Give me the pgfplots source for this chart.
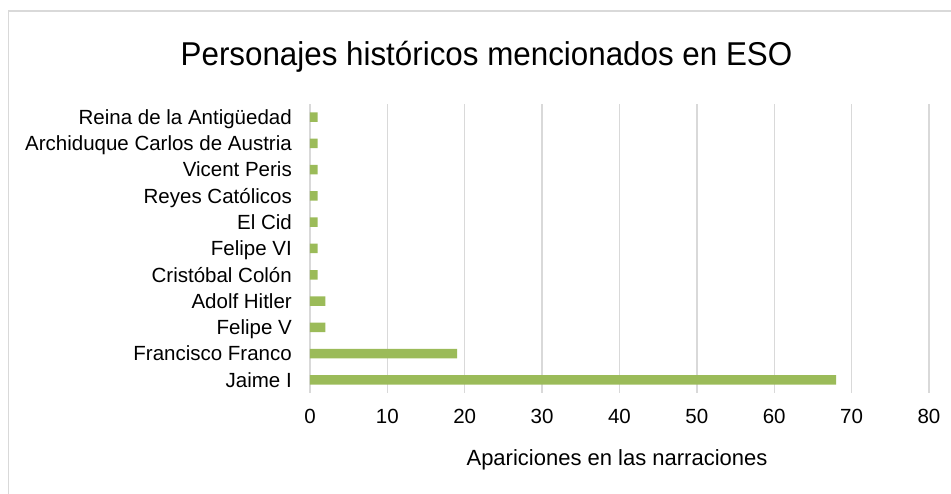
\documentclass[border=0pt]{standalone}
\usepackage{fontspec}
\setmainfont{Liberation Sans}
\newfontfamily\titlefont{Liberation Sans}[FakeStretch=0.95]
\usepackage{pgfplots}
\pgfplotsset{compat=1.18}
\definecolor{bargreen}{HTML}{9BBB59}
\definecolor{gridgray}{HTML}{D9D9D9}
\begin{document}
\begin{tikzpicture}[x=1pt,y=1pt]
\useasboundingbox (0,0) rectangle (951,494);
\begin{scope}
\clip (0,0) rectangle (951,494);
\draw[gridgray, line width=1.5pt] (8.5,-20) -- (8.5,483) -- (970,483);
\end{scope}
\begin{axis}[
 at={(310pt,101pt)}, anchor=south west,
 scale only axis, width=619pt, height=289pt,
 xbar, bar width=9.5pt,
 xmin=0, xmax=80, ymin=-0.5, ymax=10.5,
 xtick={0,10,...,80},
 ytick={0,...,10},
 yticklabels={Jaime I, Francisco Franco, Felipe V, Adolf Hitler, Cristóbal Colón, Felipe VI, El Cid, Reyes Católicos, Vicent Peris, Archiduque Carlos de Austria, Reina de la Antigüedad},
 axis line style={draw=none},
 xmajorgrids, grid style={gridgray, line width=1.3pt},
 major tick length=0,
 tick label style={font=\fontsize{20.5}{24}\selectfont},
 /pgf/number format/assume math mode=true,
 xticklabel style={anchor=base, yshift=-30.5pt, inner sep=0},
 yticklabel style={anchor=base east, yshift=-7.3pt, xshift=-18pt, inner sep=0},
]
\addplot[fill=bargreen, draw=none] coordinates {(68,0) (19,1) (2,2) (2,3) (1,4) (1,5) (1,6) (1,7) (1,8) (1,9) (1,10)};
\end{axis}
\node[anchor=base, font=\titlefont\fontsize{33}{38}\selectfont] at (486.5,428) {Personajes históricos mencionados en ESO};
\node[anchor=base, font=\fontsize{22}{26}\selectfont] at (617,28) {Apariciones en las narraciones};
\end{tikzpicture}
\end{document}
